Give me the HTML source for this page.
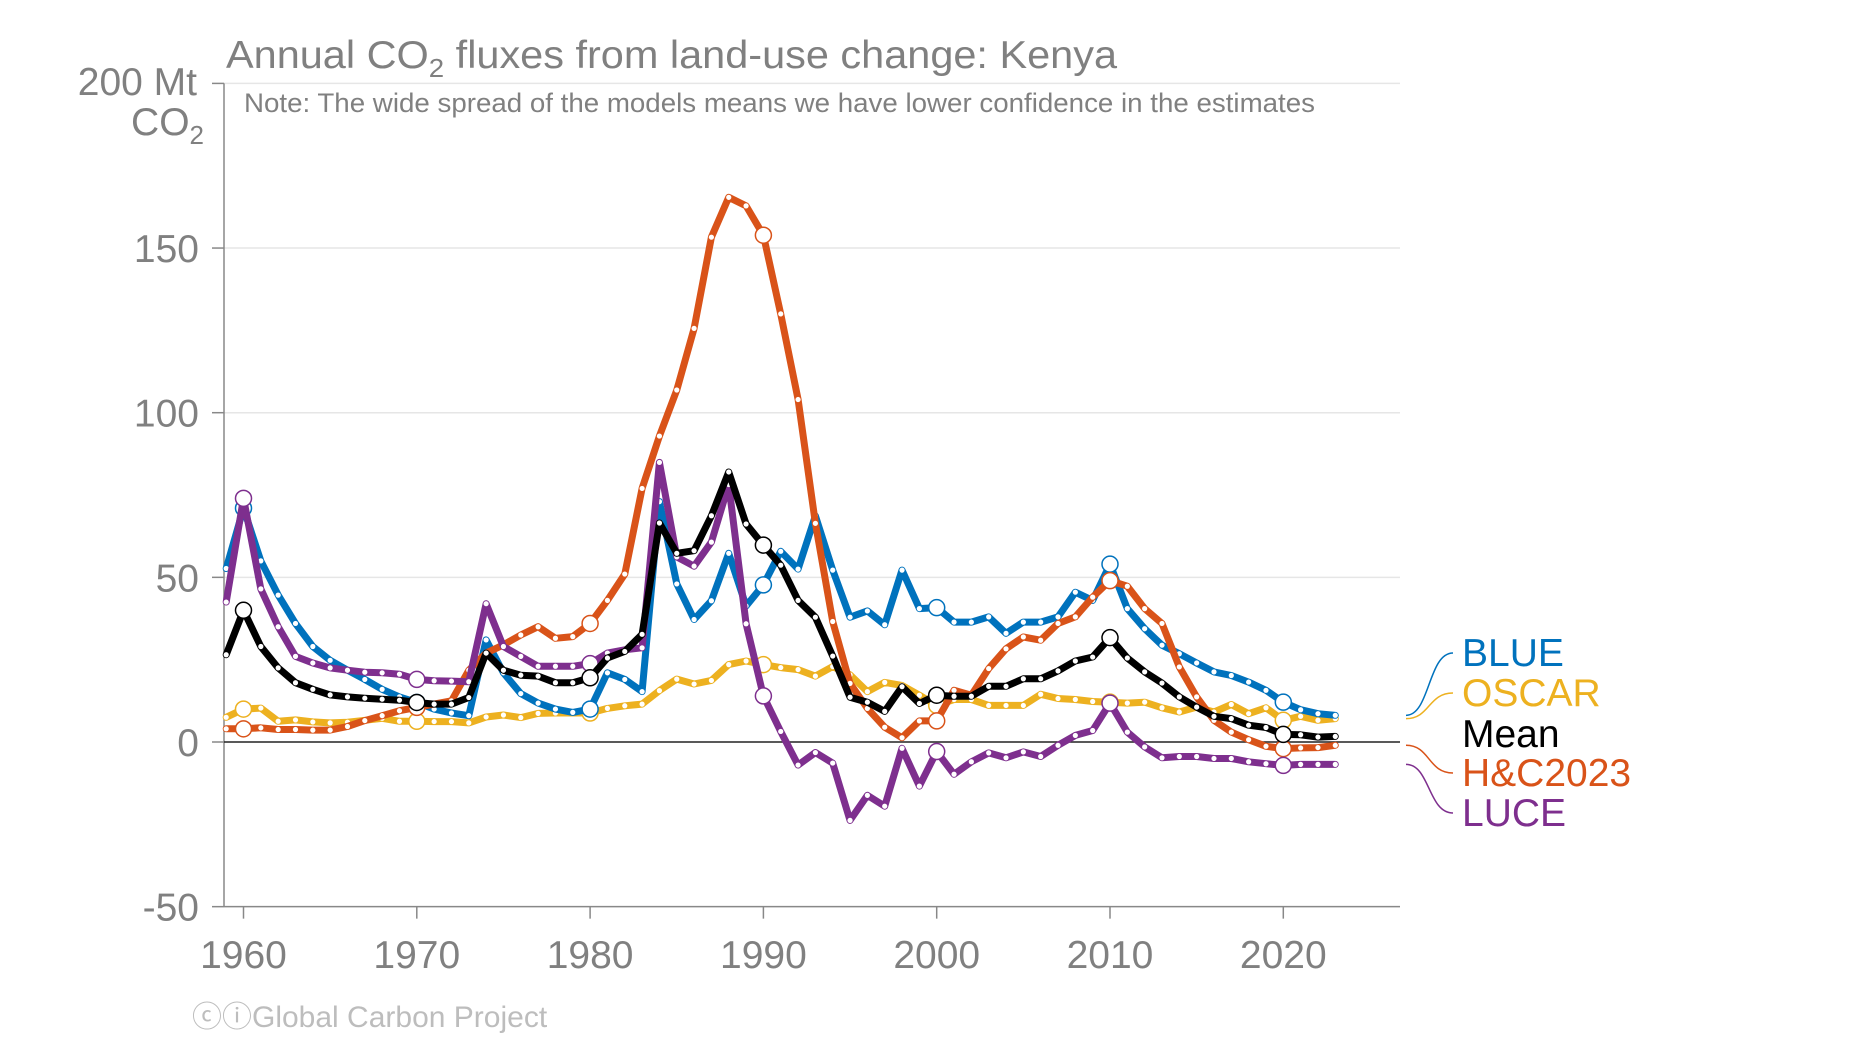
<!DOCTYPE html>
<html><head><meta charset="utf-8"><style>
html,body{margin:0;padding:0;background:#fff;}
svg{display:block;font-family:"Liberation Sans",Arial,sans-serif;}
</style></head><body>
<svg id="chart" width="1852" height="1042" viewBox="0 0 1852 1042" xmlns="http://www.w3.org/2000/svg">
<text x="226" y="68" font-size="39" fill="#808080" textLength="891" lengthAdjust="spacingAndGlyphs">Annual CO<tspan font-size="26" dy="9">2</tspan><tspan dy="-9"> fluxes from land-use change: Kenya</tspan></text>
<text x="244" y="112" font-size="27" fill="#808080" textLength="1071" lengthAdjust="spacingAndGlyphs">Note: The wide spread of the models means we have lower confidence in the estimates</text>
<g id="grid"></g>
<g id="axes"></g>
<g id="series"></g>
<g id="legend"></g>
<text x="192" y="1027" font-size="30" fill="#bdbdbd">ⓒⓘGlobal Carbon Project</text>
</svg>
<script>
const years = [];
for (let y = 1959; y <= 2023; y++) years.push(y);
const yTicks = [-50, 0, 50, 100, 150, 200];
const xTicks = [1960, 1970, 1980, 1990, 2000, 2010, 2020];
const seriesNames = ["OSCAR", "BLUE", "H&C2023", "LUCE", "Mean"];
const blueValues = [52.7,71,55,44.6,36,29,24.8,21.8,19,16,13.7,12,10,8.8,8,31,21,14.7,11.8,10,9,10,21,19,15.3,73,48,37.2,42.9,57.3,41.3,47.7,57.9,52.5,68.7,52.2,37.9,39.8,35.6,52.2,40.5,40.8,36.4,36.4,38,33,36.4,36.4,38,45.5,43,54,40.5,34.4,29.4,26.8,24,21.3,20.2,18.2,15.7,12.1,9.8,8.6,8.1];
const oscarValues = [7.5,10,10.3,6.3,6.7,6.1,5.8,6,6.6,7.2,6.3,6.3,6.2,6.2,5.8,7.6,8.2,7.4,8.7,8.8,8.8,8.8,10.2,11,11.5,15.6,19.1,17.6,18.7,23.5,24.6,23.5,22.6,22,20,22.9,20.4,15.3,18.1,17.2,14.2,11.1,12.9,12.9,11.1,11.1,11.1,14.5,13.2,12.9,12.3,12.1,11.8,12.1,10.4,9.1,10.6,9.1,11.4,8.6,10.4,6.6,7.8,6.6,7.1];
const hcValues = [4,4,4.3,3.8,3.8,3.6,3.6,4.7,6.5,8,9.5,10.5,11.5,12.5,21.8,27,29.5,32.5,35,31.5,32,36,43,51,77,92.9,106.9,125.6,153.3,165.4,162.8,153.9,130,104,66.4,36.6,17.8,10.2,4.5,1.3,6.4,6.4,15.7,14.2,22.3,28.3,31.9,30.9,36,38,44,49,47.3,40.5,36,22.8,13.7,6.6,3,0.7,-1.3,-2,-1.8,-1.7,-1];
const luceValues = [42.5,74,46.5,35,26,24,22.5,21.8,21.2,21,20.6,19,18.6,18.5,18.3,42,29,26,23,23,23,23.8,27,28,28.6,84.9,56.2,53.4,60.7,78.2,35.9,14,3.2,-7,-3.2,-6.4,-23.8,-16.2,-19.5,-1.9,-13.4,-2.9,-9.8,-6,-3.3,-4.8,-3,-4.4,-1,2,3.5,11.8,3,-1.5,-4.8,-4.4,-4.4,-5,-5,-6,-6.6,-7.1,-6.8,-6.8,-6.8];
const meanValues = [26.5,40,29,22.5,18,16,14.3,13.7,13.3,13,12.7,12,11.5,11.5,13.5,27,21.8,20.3,20,18,18,19.5,25.5,27.5,32.7,66.5,57.3,58.1,68.7,82,66.2,59.8,53.7,43,37.9,26.1,13.6,12.1,9.3,16.8,11.7,14.2,13.9,13.9,16.9,16.9,19.2,19.2,21.6,24.6,25.8,31.7,25.5,21.3,17.9,13.7,10.6,7.8,7.1,5.1,4.4,2.3,2.2,1.5,1.7];

const NS = "http://www.w3.org/2000/svg";
const X0 = 224, X1 = 1400;
function xs(yr) { return 243.5 + (yr - 1960) * 17.33; }
function ys(v) { return 742 - v * 3.293; }
function mk(tag, attrs, parent) {
  const e = document.createElementNS(NS, tag);
  for (const k in attrs) e.setAttribute(k, attrs[k]);
  parent.appendChild(e);
  return e;
}
const grid = document.getElementById('grid');
const axes = document.getElementById('axes');
yTicks.forEach(t => {
  const y = ys(t);
  if (t !== -50 && t !== 0) {
    const g = mk('line', {x1: X0, x2: X1, y1: y, y2: y, stroke: '#e6e6e6', 'stroke-width': 1.5}, grid);
    
    
  }
  const tk = mk('line', {x1: 212, x2: X0, y1: y, y2: y, stroke: '#888', 'stroke-width': 1.5}, axes);
  
  
  if (t !== 200) {
    const lb = mk('text', {x: 199, y: y + 14, 'text-anchor': 'end', 'font-size': 39, fill: '#808080'}, axes);
    lb.textContent = String(t);
    
    
  }
});
const unit1 = mk('text', {x: 197, y: 95, 'text-anchor': 'end', 'font-size': 39, fill: '#808080'}, axes);
unit1.textContent = '200 Mt';


const unit2 = mk('text', {x: 204, y: 135, 'text-anchor': 'end', 'font-size': 39, fill: '#808080'}, axes);
unit2.innerHTML = 'CO<tspan font-size="26" dy="9">2</tspan>';


const yAx = mk('line', {x1: X0, x2: X0, y1: ys(200), y2: ys(-50), stroke: '#888', 'stroke-width': 1.5}, axes);


const xAx = mk('line', {x1: X0, x2: X1, y1: ys(-50), y2: ys(-50), stroke: '#888', 'stroke-width': 1.5}, axes);


const zl = mk('line', {x1: X0, x2: X1, y1: ys(0), y2: ys(0), stroke: '#222', 'stroke-width': 1.5}, axes);


xTicks.forEach(t => {
  const x = xs(t);
  const tk = mk('line', {x1: x, x2: x, y1: ys(-50), y2: ys(-50) + 12, stroke: '#888', 'stroke-width': 1.5}, axes);
  
  
  const lb = mk('text', {x: x, y: 968, 'text-anchor': 'middle', 'font-size': 39, fill: '#808080'}, axes);
  lb.textContent = String(t);
  
  
});

const colors = {"OSCAR": "#edb120", "BLUE": "#0072bd", "H&C2023": "#d95319", "LUCE": "#7e2f8e", "Mean": "#000000"};
const valuesByName = {"OSCAR": oscarValues, "BLUE": blueValues, "H&C2023": hcValues, "LUCE": luceValues, "Mean": meanValues};
const sg = document.getElementById('series');
seriesNames.forEach(name => {
  const vals = valuesByName[name];
  const col = colors[name];
  const g = mk('g', {}, sg);
  
  
  const d = vals.map((v, i) => (i ? 'L' : 'M') + xs(years[i]).toFixed(1) + ',' + ys(v).toFixed(1)).join(' ');
  const p = mk('path', {d: d, fill: 'none', stroke: col, 'stroke-width': 7, 'stroke-linejoin': 'round', 'stroke-linecap': 'round'}, g);
  
  
  vals.forEach((v, i) => {
    const yr = years[i];
    if (yr % 10 === 0) {
      const c = mk('circle', {cx: xs(yr), cy: ys(v), r: 8, fill: '#fff', stroke: col, 'stroke-width': 1.5}, g);
      
      
    } else {
      const c = mk('circle', {cx: xs(yr), cy: ys(v), r: 2.6, fill: '#fff'}, g);
      
      
    }
  });
});

const legendNames = ["BLUE", "OSCAR", "Mean", "H&C2023", "LUCE"];
const legendBase = [666, 706, 747, 786, 826];
const lg = document.getElementById('legend');
legendNames.forEach((name, i) => {
  const col = colors[name];
  const vals = valuesByName[name];
  const y0 = ys(vals[vals.length - 1]);
  const y1 = legendBase[i] - 13;
  if (name !== 'Mean') {
    const c = mk('path', {d: 'M1406,' + y0 + ' C1430,' + y0 + ' 1428,' + y1 + ' 1453,' + y1, fill: 'none', stroke: col, 'stroke-width': 1.5}, lg);
    
    
  }
  const t = mk('text', {x: 1462, y: legendBase[i], 'font-size': 39, fill: col}, lg);
  t.textContent = name;
  
  
});
</script>
</body></html>
